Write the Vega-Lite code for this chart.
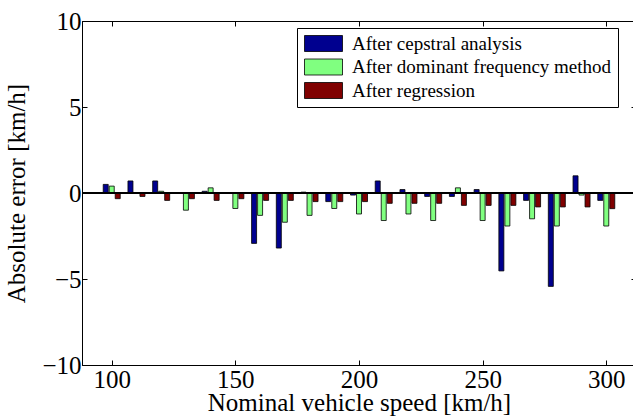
{
  "$schema": "https://vega.github.io/schema/vega-lite/v6.json",
  "width": 554,
  "height": 344,
  "autosize": {"type": "none"},
  "padding": {"left": 82, "top": 21, "right": 0, "bottom": 54},
  "background": "white",
  "config": {
    "font": "Liberation Serif",
    "view": {"stroke": "black", "strokeWidth": 1},
    "axis": {
      "grid": false,
      "domainColor": "black",
      "tickColor": "black",
      "tickSize": -5,
      "labelColor": "black",
      "titleColor": "black",
      "labelFont": "Liberation Serif",
      "titleFont": "Liberation Serif",
      "labelFontSize": 25,
      "titleFontSize": 25,
      "titleFontWeight": "normal"
    },
    "legend": {
      "labelFont": "Liberation Serif",
      "labelFontSize": 19,
      "labelColor": "black"
    }
  },
  "data": {
    "values": [
      {"speed": 100, "method": "After cepstral analysis", "error": 0.5},
      {"speed": 100, "method": "After dominant frequency method", "error": 0.4},
      {"speed": 100, "method": "After regression", "error": -0.33},
      {"speed": 110, "method": "After cepstral analysis", "error": 0.7},
      {"speed": 110, "method": "After dominant frequency method", "error": 0},
      {"speed": 110, "method": "After regression", "error": -0.2},
      {"speed": 120, "method": "After cepstral analysis", "error": 0.7},
      {"speed": 120, "method": "After dominant frequency method", "error": 0.1},
      {"speed": 120, "method": "After regression", "error": -0.43},
      {"speed": 130, "method": "After cepstral analysis", "error": 0},
      {"speed": 130, "method": "After dominant frequency method", "error": -1.0},
      {"speed": 130, "method": "After regression", "error": -0.33},
      {"speed": 140, "method": "After cepstral analysis", "error": 0.1},
      {"speed": 140, "method": "After dominant frequency method", "error": 0.3},
      {"speed": 140, "method": "After regression", "error": -0.43},
      {"speed": 150, "method": "After cepstral analysis", "error": 0},
      {"speed": 150, "method": "After dominant frequency method", "error": -0.9},
      {"speed": 150, "method": "After regression", "error": -0.33},
      {"speed": 160, "method": "After cepstral analysis", "error": -2.93},
      {"speed": 160, "method": "After dominant frequency method", "error": -1.3},
      {"speed": 160, "method": "After regression", "error": -0.43},
      {"speed": 170, "method": "After cepstral analysis", "error": -3.2},
      {"speed": 170, "method": "After dominant frequency method", "error": -1.7},
      {"speed": 170, "method": "After regression", "error": -0.43},
      {"speed": 180, "method": "After cepstral analysis", "error": 0.05},
      {"speed": 180, "method": "After dominant frequency method", "error": -1.3},
      {"speed": 180, "method": "After regression", "error": -0.5},
      {"speed": 190, "method": "After cepstral analysis", "error": -0.5},
      {"speed": 190, "method": "After dominant frequency method", "error": -0.9},
      {"speed": 190, "method": "After regression", "error": -0.5},
      {"speed": 200, "method": "After cepstral analysis", "error": -0.12},
      {"speed": 200, "method": "After dominant frequency method", "error": -1.22},
      {"speed": 200, "method": "After regression", "error": -0.5},
      {"speed": 210, "method": "After cepstral analysis", "error": 0.7},
      {"speed": 210, "method": "After dominant frequency method", "error": -1.6},
      {"speed": 210, "method": "After regression", "error": -0.6},
      {"speed": 220, "method": "After cepstral analysis", "error": 0.2},
      {"speed": 220, "method": "After dominant frequency method", "error": -1.22},
      {"speed": 220, "method": "After regression", "error": -0.6},
      {"speed": 230, "method": "After cepstral analysis", "error": -0.2},
      {"speed": 230, "method": "After dominant frequency method", "error": -1.6},
      {"speed": 230, "method": "After regression", "error": -0.6},
      {"speed": 240, "method": "After cepstral analysis", "error": -0.2},
      {"speed": 240, "method": "After dominant frequency method", "error": 0.3},
      {"speed": 240, "method": "After regression", "error": -0.72},
      {"speed": 250, "method": "After cepstral analysis", "error": 0.2},
      {"speed": 250, "method": "After dominant frequency method", "error": -1.6},
      {"speed": 250, "method": "After regression", "error": -0.72},
      {"speed": 260, "method": "After cepstral analysis", "error": -4.53},
      {"speed": 260, "method": "After dominant frequency method", "error": -1.92},
      {"speed": 260, "method": "After regression", "error": -0.72},
      {"speed": 270, "method": "After cepstral analysis", "error": -0.43},
      {"speed": 270, "method": "After dominant frequency method", "error": -1.5},
      {"speed": 270, "method": "After regression", "error": -0.81},
      {"speed": 280, "method": "After cepstral analysis", "error": -5.43},
      {"speed": 280, "method": "After dominant frequency method", "error": -1.92},
      {"speed": 280, "method": "After regression", "error": -0.81},
      {"speed": 290, "method": "After cepstral analysis", "error": 1.0},
      {"speed": 290, "method": "After dominant frequency method", "error": -0.12},
      {"speed": 290, "method": "After regression", "error": -0.81},
      {"speed": 300, "method": "After cepstral analysis", "error": -0.43},
      {"speed": 300, "method": "After dominant frequency method", "error": -1.92},
      {"speed": 300, "method": "After regression", "error": -0.91}
    ]
  },
  "resolve": {"axis": {"x": "independent", "y": "independent"}},
  "layer": [
    {
      "transform": [{"filter": "datum.method === 'After cepstral analysis'"}],
      "mark": {"type": "bar", "width": 5, "xOffset": -6, "stroke": "black", "strokeWidth": 0.8},
      "encoding": {
        "x": {"field": "speed", "type": "quantitative", "scale": {"domain": [90, 310], "nice": false, "zero": false},
          "axis": {"orient": "bottom", "title": "Nominal vehicle speed [km/h]", "values": [100, 150, 200, 250, 300], "labelPadding": 7, "titleY": 45, "titleBaseline": "alphabetic"}},
        "y": {"field": "error", "type": "quantitative", "scale": {"domain": [-10, 10], "nice": false},
          "axis": {"orient": "left", "title": "Absolute error [km/h]", "values": [-10, -5, 0, 5, 10], "labelPadding": 6, "titlePadding": 12}},
        "color": {"field": "method", "type": "nominal",
          "scale": {"domain": ["After cepstral analysis", "After dominant frequency method", "After regression"], "range": ["#00008F", "#80FF80", "#800000"]},
          "legend": {"title": null, "orient": "none", "legendX": 215, "legendY": 7, "strokeColor": "black", "fillColor": "white", "padding": 6,
            "symbolType": "M-1,-1H3.75V1H-1Z", "symbolSize": 256, "symbolStrokeColor": "black", "symbolStrokeWidth": 0.8,
            "rowPadding": 2.5, "labelOffset": 30, "labelLimit": 400}}
      }
    },
    {
      "transform": [{"filter": "datum.method === 'After dominant frequency method'"}],
      "mark": {"type": "bar", "width": 5, "xOffset": 0, "stroke": "black", "strokeWidth": 0.8},
      "encoding": {
        "x": {"field": "speed", "type": "quantitative", "axis": null},
        "y": {"field": "error", "type": "quantitative", "axis": null},
        "color": {"field": "method", "type": "nominal"}
      }
    },
    {
      "transform": [{"filter": "datum.method === 'After regression'"}],
      "mark": {"type": "bar", "width": 5, "xOffset": 6, "stroke": "black", "strokeWidth": 0.8},
      "encoding": {
        "x": {"field": "speed", "type": "quantitative", "axis": null},
        "y": {"field": "error", "type": "quantitative", "axis": null},
        "color": {"field": "method", "type": "nominal"}
      }
    },
    {
      "mark": {"type": "rule", "color": "black", "strokeWidth": 1.2},
      "encoding": {"y": {"datum": 0, "type": "quantitative", "axis": null}}
    },
    {
      "mark": {"type": "point", "opacity": 0},
      "encoding": {
        "x": {"field": "speed", "type": "quantitative", "axis": {"orient": "top", "title": null, "labels": false, "values": [100, 150, 200, 250, 300]}},
        "y": {"field": "error", "type": "quantitative", "axis": {"orient": "right", "title": null, "labels": false, "values": [-10, -5, 0, 5, 10]}}
      }
    }
  ]
}
